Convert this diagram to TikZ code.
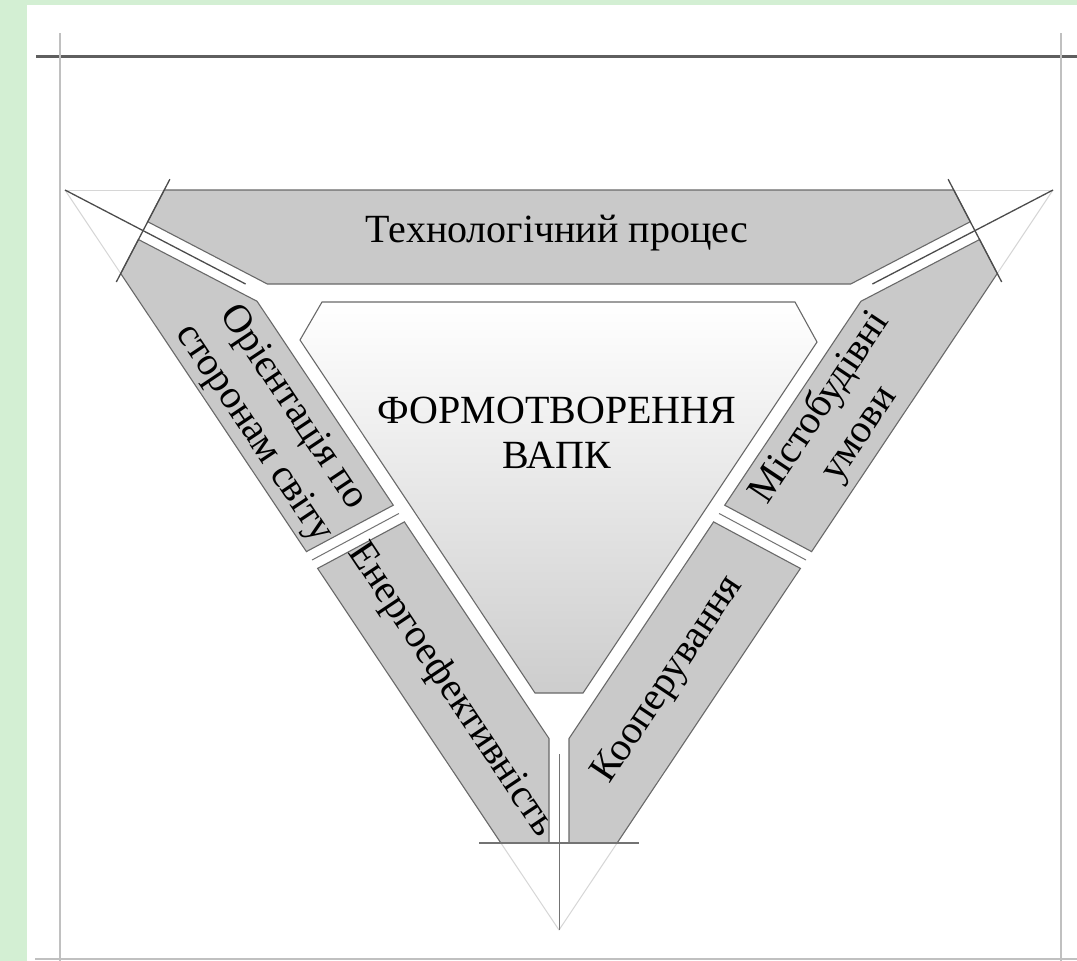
\documentclass[tikz,border=0pt]{standalone}
\usepackage{fontspec}
\setmainfont{Liberation Serif}
\definecolor{bandgray}{RGB}{201,201,201}
\definecolor{edgegray}{RGB}{105,105,105}
\definecolor{faintgray}{RGB}{214,214,214}
\definecolor{greenbg}{RGB}{211,239,211}
\definecolor{framedark}{RGB}{95,95,95}
\definecolor{framelight}{RGB}{192,192,192}
\definecolor{shapebottom}{RGB}{205,205,205}
\tikzset{
  band/.style={fill=bandgray, draw=edgegray, line width=1.1pt, line join=miter},
  faintline/.style={draw=faintgray, line width=1pt},
  midline/.style={draw=black!55, line width=1pt},
  cutline/.style={draw=black!70, line width=1.3pt},
  lbl/.style={font=\fontsize{40}{47}\selectfont, align=center, inner sep=0pt, text=black},
}
\begin{document}
\begin{tikzpicture}[x=1pt,y=-1pt]
\useasboundingbox (0,0) rectangle (1077,961);
\fill[white] (0,0) rectangle (1077,961);
\fill[greenbg] (0,0) rectangle (27,961);
\fill[greenbg] (0,0) rectangle (1077,5);
% frame
\draw[framedark, line width=3pt] (36,56) -- (1077,56);
\draw[framelight, line width=2pt] (60,33) -- (60,961);
\draw[framelight, line width=2pt] (1061,33) -- (1061,961);
\draw[framelight, line width=1.5pt] (35,959) -- (1077,959);
% key points
\coordinate (A) at (65,190);
\coordinate (B) at (1053,190);
\coordinate (C) at (559,930);
\coordinate (IL) at (245.6,284);
\coordinate (IR) at (872.4,284);
\coordinate (IC) at (559,753.5);
% faint outer triangle remnants
\draw[faintline] (A) -- (164.2,190);
\draw[faintline] (A) -- (120.7,273.5);
\draw[faintline] (B) -- (953.8,190);
\draw[faintline] (B) -- (997.3,273.5);
\draw[faintline] (C) -- (500.9,843);
\draw[faintline] (C) -- (617.1,843);
% bands
\draw[band] (164.2,190) -- (147.7,221.7) -- (267.3,284) -- (850.7,284) -- (970.3,221.7) -- (953.8,190) -- cycle;
\draw[band] (120.7,273.5) -- (138.4,239.5) -- (257.1,301.3) -- (393.3,505.2) -- (306.4,551.6) -- cycle;
\draw[band] (317.6,568.4) -- (404.4,521.9) -- (549,738.5) -- (549,843) -- (500.9,843) -- cycle;
\draw[band] (997.3,273.5) -- (979.6,239.5) -- (860.9,301.3) -- (724.7,505.2) -- (811.6,551.6) -- cycle;
\draw[band] (800.4,568.4) -- (713.6,521.9) -- (569,738.5) -- (569,843) -- (617.1,843) -- cycle;
% central shape
\draw[draw=edgegray, line width=1.1pt, top color=white, bottom color=shapebottom]
  (322,302) -- (795,302) -- (817,342) -- (583,693) -- (535,693) -- (300,340) -- cycle;
% mitre centre lines
\draw[cutline] (A) -- (IL);
\draw[cutline] (B) -- (IR);
\draw[midline] (C) -- (IC);
% separators
\draw[midline] (312,560) -- (398.9,513.5);
\draw[midline] (806,560) -- (719.1,513.5);
% cut lines
\draw[cutline] (169.9,179.2) -- (116.3,282.0);
\draw[cutline] (948.1,179.2) -- (1001.7,282.0);
\draw[midline, line width=1.3pt] (479,843) -- (639,843);
% labels
\node[lbl, anchor=base] (tech) at (557,242) {Технологічний процес};
\node[lbl, anchor=base] (form) at (557,423) {ФОРМОТВОРЕННЯ};
\node[lbl, anchor=base] (vapk) at (557,468) {ВАПК};
\node[lbl, rotate=-56.3] (orient) at (273,421) {Орієнтація по\\сторонам світу};
\node[lbl, rotate=-56.3] (energy) at (451,690) {Енергоефективність};
\node[lbl, rotate=56.3] (misto) at (840,421) {Містобудівні\\умови};
\node[lbl, rotate=56.3] (koop) at (669,680) {Кооперування};
\end{tikzpicture}
\end{document}
